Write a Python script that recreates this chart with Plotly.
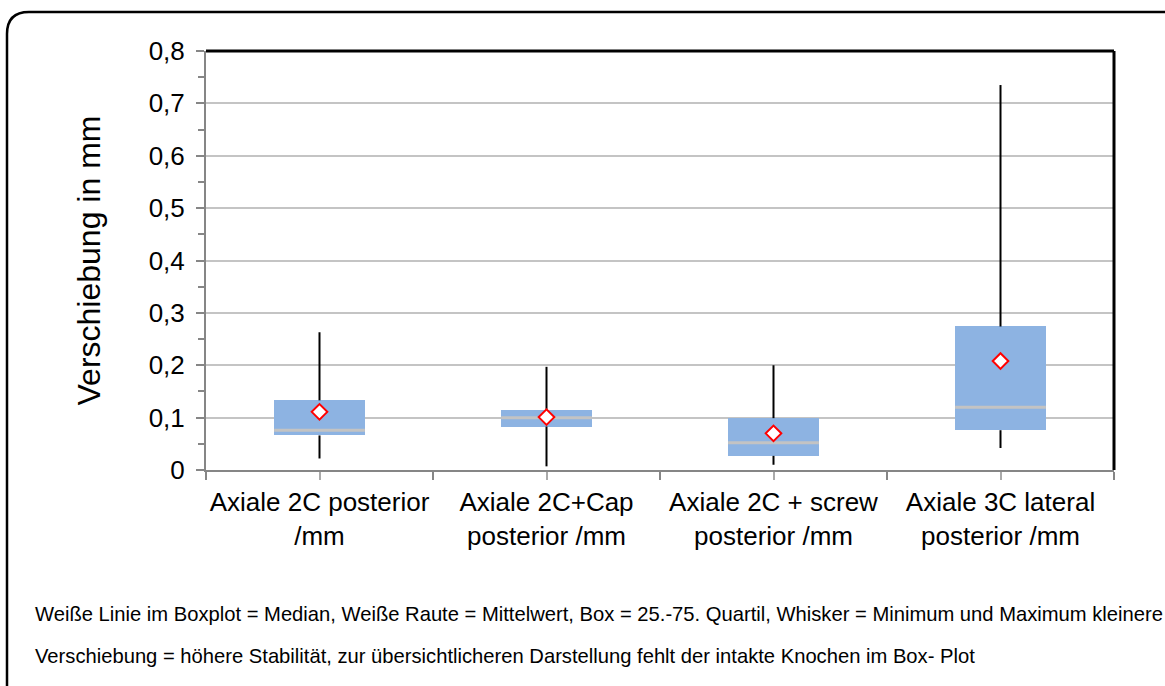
import plotly.graph_objects as go

categories = ["Axiale 2C posterior<br>/mm", "Axiale 2C+Cap<br>posterior /mm",
              "Axiale 2C + screw<br>posterior /mm", "Axiale 3C lateral<br>posterior /mm"]
q1 = [0.066, 0.083, 0.027, 0.076]
median = [0.076, 0.100, 0.052, 0.120]
q3 = [0.133, 0.115, 0.099, 0.274]
whisker_min = [0.022, 0.007, 0.010, 0.042]
whisker_max = [0.263, 0.197, 0.200, 0.735]
mean = [0.111, 0.101, 0.070, 0.208]
y_ticks = [0, 0.1, 0.2, 0.3, 0.4, 0.5, 0.6, 0.7, 0.8]
y_ticktext = ["0", "0,1", "0,2", "0,3", "0,4", "0,5", "0,6", "0,7", "0,8"]
footnote = ["Weiße Linie im Boxplot = Median, Weiße Raute = Mittelwert, Box = 25.-75. Quartil, Whisker = Minimum und Maximum kleinere",
            "Verschiebung = höhere Stabilität, zur übersichtlicheren Darstellung fehlt der intakte Knochen im Box- Plot"]

W, H = 1165, 686
L, R, T, B = 206, 1114, 51, 470
FONT = "Arial, Liberation Sans, Helvetica, sans-serif"
BOXW = 0.4

def px(x):
    return (x - L) / (R - L)

def py(y):
    return (B - y) / (B - T)

xs = list(range(len(categories)))
fig = go.Figure()

# whiskers (drawn in two parts so the box covers the inner part)
wx, wy = [], []
for i in xs:
    wx += [i, i, None, i, i, None]
    wy += [whisker_min[i], q1[i], None, q3[i], whisker_max[i], None]
fig.add_trace(go.Scatter(x=wx, y=wy, mode="lines", line=dict(color="black", width=2),
                         hoverinfo="skip", showlegend=False))

# boxes
fig.add_trace(go.Bar(x=xs, y=[q3[i] - q1[i] for i in xs], base=q1, width=BOXW,
                     marker=dict(color="#8db3e2", line=dict(width=0)), showlegend=False))

# median lines
mx, my = [], []
for i in xs:
    mx += [i - BOXW / 2, i + BOXW / 2, None]
    my += [median[i], median[i], None]
fig.add_trace(go.Scatter(x=mx, y=my, mode="lines", line=dict(color="#c3c3c3", width=3),
                         hoverinfo="skip", showlegend=False))

# means
fig.add_trace(go.Scatter(x=xs, y=mean, mode="markers",
                         marker=dict(symbol="diamond", size=12, color="white",
                                     line=dict(color="#ff0000", width=2)),
                         showlegend=False))

fig.update_layout(
    width=W, height=H,
    margin=dict(l=L, r=W - R, t=T, b=H - B),
    paper_bgcolor="white", plot_bgcolor="white",
    font=dict(family=FONT, color="black"),
    bargap=0,
    xaxis=dict(range=[-0.5, len(categories) - 0.5], tickmode="array", tickvals=xs,
               ticktext=categories, tickfont=dict(size=26, color="black"),
               showline=True, linecolor="#868686", linewidth=2,
               ticks="outside", ticklen=8, tickcolor="#aaaaaa", tickwidth=2,
               minor=dict(tickmode="array", tickvals=[i - 0.5 for i in range(len(categories) + 1)],
                          ticks="outside", ticklen=8, tickcolor="#868686", tickwidth=2),
               showgrid=False, zeroline=False, fixedrange=True),
    yaxis=dict(range=[0, 0.8], tickmode="array", tickvals=y_ticks, ticktext=y_ticktext,
               tickfont=dict(size=26, color="black"),
               showline=True, linecolor="#868686", linewidth=2,
               ticks="outside", ticklen=8, tickcolor="#868686", tickwidth=2,
               minor=dict(dtick=0.05, ticks="outside", ticklen=6, tickcolor="#868686",
                          tickwidth=2, showgrid=False),
               showgrid=True, gridcolor="#c4c4c4", gridwidth=2, zeroline=False,
               ticklabelstandoff=6,
               title=dict(text="Verschiebung in mm", font=dict(size=32, color="black"), standoff=38),
               fixedrange=True),
    shapes=[
        dict(type="line", xref="paper", yref="paper", x0=0, x1=1, y0=1, y1=1,
             line=dict(color="black", width=3)),
        dict(type="line", xref="paper", yref="paper", x0=1, x1=1, y0=0, y1=1,
             line=dict(color="black", width=3)),
        dict(type="path", xref="paper", yref="paper",
             path=(f"M {px(7)},{py(700)} L {px(7)},{py(34)} "
                   f"Q {px(7)},{py(12)} {px(29)},{py(12)} L {px(1180)},{py(12)}"),
             line=dict(color="black", width=2.5), fillcolor="rgba(0,0,0,0)"),
    ],
    annotations=[
        dict(text=footnote[0], xref="paper", yref="paper", x=px(33), y=py(614),
             xanchor="left", yanchor="middle", showarrow=False,
             font=dict(size=20.2, color="black", family=FONT)),
        dict(text=footnote[1], xref="paper", yref="paper", x=px(33), y=py(656),
             xanchor="left", yanchor="middle", showarrow=False,
             font=dict(size=20.2, color="black", family=FONT)),
    ],
)

fig.write_html("out.html", config={"displayModeBar": False})
